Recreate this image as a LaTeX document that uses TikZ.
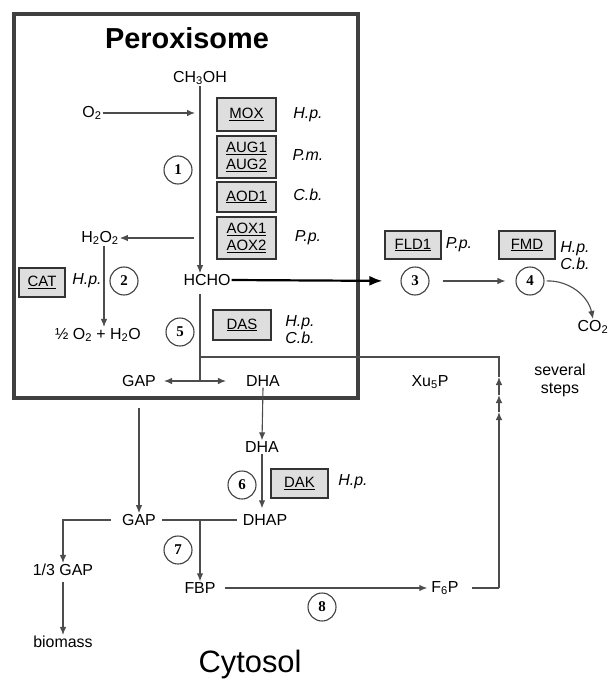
\documentclass[tikz,border=0pt]{standalone}
\usepackage{fontspec}
\setmainfont{Liberation Sans}
\newfontfamily\numfont{Liberation Serif}
\usetikzlibrary{arrows.meta, positioning, calc}

\begin{document}
\begin{tikzpicture}[
    x=1bp, y=-1bp,
    >={Latex[length=8bp,width=6.5bp]},
    font=\fontsize{16}{18}\selectfont,
    met/.style={inner sep=1bp},
    enz/.style={
        draw=black!80,
        fill=black!13,
        line width=1.3bp,
        minimum width=59bp,
        align=center,
        inner sep=2bp,
        font=\fontsize{15}{17}\selectfont
    },
    sp/.style={font=\fontsize{16}{17}\selectfont\itshape, align=left},
    num/.style={
        circle,
        draw=black!75,
        fill=white,
        line width=1.1bp,
        minimum size=28bp,
        inner sep=0pt,
        font=\fontsize{15}{15}\numfont\bfseries
    },
    flow/.style={draw=black!70, line width=1.1bp, ->},
    link/.style={draw=black!70, line width=1.1bp},
    big/.style={thick, line width=2.2bp, -{Latex[length=13bp,width=10bp]}}
]
\useasboundingbox (0,0) rectangle (608,681);

% ---------------- Compartments ----------------
\draw[line width=4bp, black!75] (14,14) rectangle (358,398);
\node[font=\fontsize{29}{32}\selectfont\bfseries] (perox) at (187,38) {Peroxisome};
\node[font=\fontsize{31}{34}\selectfont] (cyto) at (250,665) {Cytosol};

% ---------------- Metabolites ----------------
\node[met] (meoh)   at (200,78)  {CH\textsubscript{3}OH};
\node[met] (o2)     at (92,113)  {O\textsubscript{2}};
\node[met] (h2o2)   at (100,238) {H\textsubscript{2}O\textsubscript{2}};
\node[met] (water)  at (98,335)  {½ O\textsubscript{2} + H\textsubscript{2}O};
\node[met] (hcho)   at (207,280) {HCHO};
\node[met] (co2)    at (593,327) {CO\textsubscript{2}};
\node[met] (gapp)   at (139,381) {GAP};
\node[met] (dhap)   at (263,381) {DHA};
\node[met] (xu5p)   at (430,382) {Xu\textsubscript{5}P};
\node[met, align=center] (steps) at (560,380) {several\\steps};
\node[met] (dhac)   at (262,447) {DHA};
\node[met] (gapc)   at (139,520) {GAP};
\node[met] (dhapc)  at (265,520) {DHAP};
\node[met] (third)  at (63,570)  {1/3 GAP};
\node[met] (biomass) at (63,642) {biomass};
\node[met] (fbp)    at (200,588) {FBP};
\node[met] (f6p)    at (445,588) {F\textsubscript{6}P};

% ---------------- Enzymes ----------------
\node[enz, minimum height=33bp] (mox) at (246.5,114.5) {\underline{MOX}};
\node[enz, minimum height=42bp] (aug) at (246.5,157) {\underline{AUG1}\\\underline{AUG2}};
\node[enz, minimum height=30bp] (aod) at (246.5,197) {\underline{AOD1}};
\node[enz, minimum height=42bp] (aox) at (246.5,238) {\underline{AOX1}\\\underline{AOX2}};
\node[enz, minimum width=46bp, minimum height=29bp] (cat) at (42,282.5) {\underline{CAT}};
\node[enz, minimum width=56bp, minimum height=28bp] (fld) at (413,245) {\underline{FLD1}};
\node[enz, minimum width=56bp, minimum height=28bp] (fmd) at (527,245) {\underline{FMD}};
\node[enz, minimum width=58bp, minimum height=30bp] (das) at (242,325) {\underline{DAS}};
\node[enz, minimum width=57bp, minimum height=29bp] (dak) at (299.5,483.5) {\underline{DAK}};

\node[sp] (hpmox) at (308,115) {H.p.};
\node[sp] (pmaug) at (308,155) {P.m.};
\node[sp] (cbaod) at (308,195) {C.b.};
\node[sp] (ppaox) at (308,238) {P.p.};
\node[sp] (hpcat) at (87,281)  {H.p.};
\node[sp] (ppfld) at (459,245) {P.p.};
\node[sp] (spfmd) at (575,256) {H.p.\\C.b.};
\node[sp] (spdas) at (300,330) {H.p.\\C.b.};
\node[sp] (hpdak) at (353,482) {H.p.};

% ---------------- Reaction numbers ----------------
\node[num] (r1) at (178,170) {1};
\node[num] (r2) at (124,281) {2};
\node[num] (r3) at (415,281) {3};
\node[num] (r4) at (530,281) {4};
\node[num] (r5) at (180,332) {5};
\node[num] (r6) at (242,485) {6};
\node[num] (r7) at (178,550) {7};
\node[num] (r8) at (322,607) {8};

% ---------------- Junctions ----------------
\coordinate (split) at (200,381);
\coordinate (xuin)  at (200,357);
\coordinate (rc1)   at (499,588);
\coordinate (st1)   at (499,412);
\coordinate (st2)   at (499,395);
\coordinate (st3)   at (499,377);
\coordinate (rc2)   at (499,357);

% ---------------- Peroxisome ----------------
\draw[flow] (meoh.south) -- (meoh.south |- hcho.north);
\draw[flow, shorten >=5bp] (o2.east) -- (o2 -| meoh);
\draw[flow, shorten <=6bp] (h2o2 -| meoh) -- (h2o2.east);
\draw[flow] ([xshift=4bp]h2o2.south) -- ([xshift=4bp]h2o2.south |- water.north);
\draw[big, shorten >=18bp] (hcho.east) -- (r3.west);
\draw[flow, shorten <=13bp, shorten >=10bp] (r3.east) -- (r4.west);
\draw[flow, shorten <=2bp] (r4.east) to[bend left=40] (co2.north);
\draw[link, shorten <=7bp] (hcho.south -| meoh) -- (split);
\draw[flow, <->, shorten <=7bp, shorten >=19bp] (gapp.east) -- (dhap.west);

% ---------------- Xu5P regeneration ----------------
\draw[link, shorten <=12bp] (f6p.east) -- (rc1);
\draw[flow] (rc1) -- (st1);
\draw[flow] (st1) -- (st2);
\draw[flow] (st2) -- (st3);
\draw[link] (st3) -- (rc2) -- (xuin);

% ---------------- Cytosol ----------------
\draw[flow] (dhap.south) -- (dhac.north);
\draw[flow, shorten >=5bp] (dhac.south) -- (dhac.south |- dhapc.north);
\draw[flow, shorten <=20bp] (gapp.south) -- (gapc.north);
\draw[link, shorten <=5bp, shorten >=5bp] (gapc.east) -- (dhapc.west);
\draw[flow] (fbp.north |- gapc) -- (fbp.north);
\draw[flow, shorten <=10bp] (gapc.west) -| (third.north);
\draw[flow, shorten <=5bp] (third.south) -- (biomass.north);
\draw[flow, shorten <=8bp, shorten >=3bp] (fbp.east) -- (f6p.west);

\end{tikzpicture}
\end{document}
